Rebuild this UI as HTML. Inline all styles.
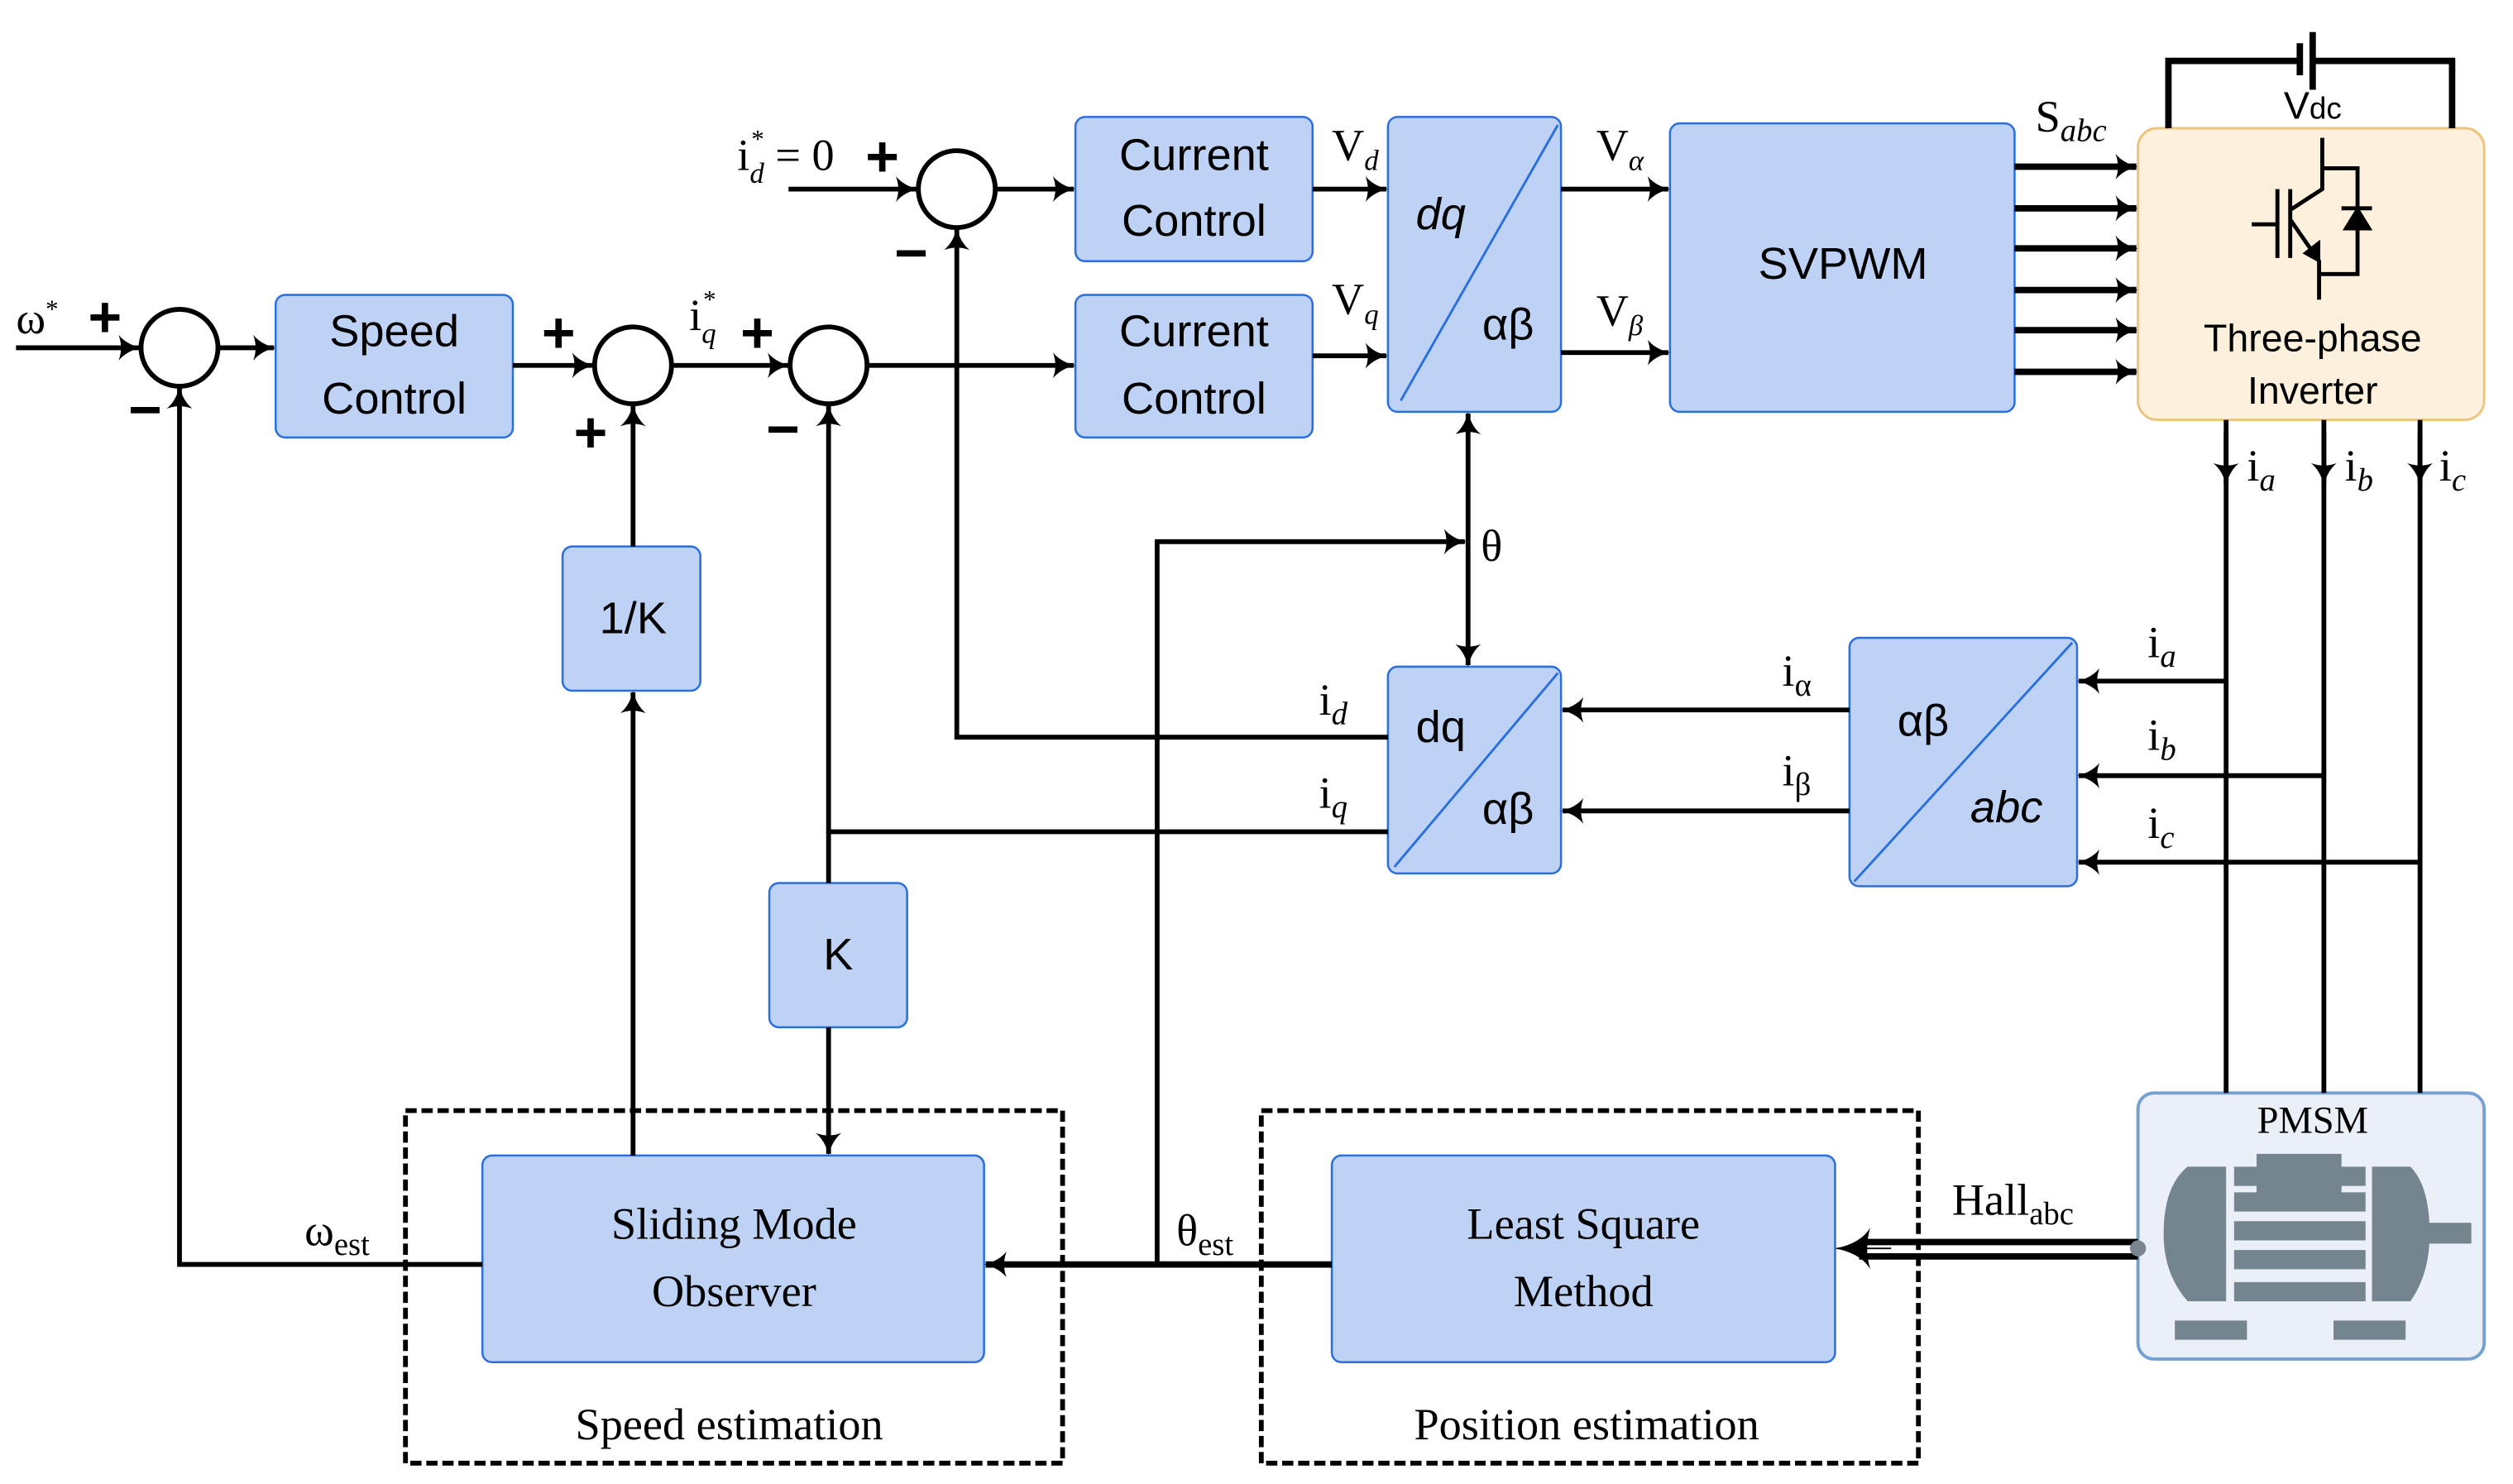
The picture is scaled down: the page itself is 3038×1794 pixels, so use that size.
<!DOCTYPE html>
<html><head><meta charset="utf-8"><style>
html,body{margin:0;padding:0;background:#fff}
svg{display:block}
.b{fill:#bed2f6;stroke:#2a6fdc;stroke-width:1.3}
.s{font-family:"Liberation Sans",sans-serif;font-size:28px}
.r{font-family:"Liberation Serif",serif;font-size:28px}
.l{stroke:#000;stroke-width:3;fill:none}
.pm{font-family:"Liberation Sans",sans-serif;font-size:36px;font-weight:bold}
</style></head><body>
<svg width="3038" height="1794" viewBox="0 0 1568 926" preserveAspectRatio="none" xmlns="http://www.w3.org/2000/svg">
<defs><marker id="a" markerWidth="14" markerHeight="16" refX="13" refY="8" orient="auto" markerUnits="userSpaceOnUse"><path d="M0,0 Q5,6 14,8 Q5,10 0,16 Q3,8 0,0z" fill="#000"/></marker>
<marker id="a2" markerWidth="22" markerHeight="26" refX="21" refY="13" orient="auto" markerUnits="userSpaceOnUse"><path d="M0,0 Q6,10 22,13 Q6,16 0,26 Q4,13 0,0z" fill="#000"/></marker></defs>

<rect class="b" x="172" y="184" width="148" height="89" rx="6"/>
<rect class="b" x="671" y="73" width="148" height="90" rx="6"/>
<rect class="b" x="671" y="184" width="148" height="89" rx="6"/>
<rect class="b" x="866" y="73" width="108" height="184" rx="6"/>
<line x1="874" y1="250" x2="972" y2="78" stroke="#2a6fdc" stroke-width="1.5"/>
<rect class="b" x="1042" y="77" width="215" height="180" rx="6"/>
<rect class="b" x="351" y="341" width="86" height="90" rx="6"/>
<rect class="b" x="480" y="551" width="86" height="90" rx="6"/>
<rect class="b" x="866" y="416" width="108" height="129" rx="6"/>
<line x1="870" y1="541" x2="972" y2="420" stroke="#2a6fdc" stroke-width="1.5"/>
<rect class="b" x="1154" y="398" width="142" height="155" rx="6"/>
<line x1="1157" y1="550" x2="1293" y2="401" stroke="#2a6fdc" stroke-width="1.5"/>
<rect class="b" x="301" y="721" width="313" height="129" rx="6"/>
<rect class="b" x="831" y="721" width="314" height="129" rx="6"/>
<rect x="253" y="693" width="410" height="220" fill="none" stroke="#000" stroke-width="3" stroke-dasharray="7,3"/>
<rect x="787" y="693" width="410" height="220" fill="none" stroke="#000" stroke-width="3" stroke-dasharray="7,3"/>
<rect x="1334" y="80" width="216" height="182" rx="12" fill="#fdf0dc" stroke="#edc47e" stroke-width="1.5"/>
<rect x="1334" y="682" width="216" height="166" rx="10" fill="#ebeff8" stroke="#75a0cf" stroke-width="2"/>

<g fill="#fff" stroke="#000" stroke-width="3">
<circle cx="112" cy="217" r="24"/><circle cx="395" cy="228" r="24"/><circle cx="517" cy="228" r="24"/><circle cx="597" cy="118" r="24"/></g>

<g class="l">
<path d="M10,217 H87" marker-end="url(#a)"/>
<path d="M137,217 H171" marker-end="url(#a)"/>
<path d="M320,228 H370" marker-end="url(#a)"/>
<path d="M420,228 H492" marker-end="url(#a)"/>
<path d="M542,228 H670" marker-end="url(#a)"/>
<path d="M492,118 H572" marker-end="url(#a)"/>
<path d="M622,118 H670" marker-end="url(#a)"/>
<path d="M819,118 H865" marker-end="url(#a)"/>
<path d="M819,222 H865" marker-end="url(#a)"/>
<path d="M974,118 H1041" marker-end="url(#a)"/>
<path d="M974,220 H1041" marker-end="url(#a)"/>
<path d="M1257,104 H1333" marker-end="url(#a)" stroke-width="4"/>
<path d="M1257,130 H1333" marker-end="url(#a)" stroke-width="4"/>
<path d="M1257,155 H1333" marker-end="url(#a)" stroke-width="4"/>
<path d="M1257,181 H1333" marker-end="url(#a)" stroke-width="4"/>
<path d="M1257,206 H1333" marker-end="url(#a)" stroke-width="4"/>
<path d="M1257,232 H1333" marker-end="url(#a)" stroke-width="4"/>
<path d="M1353,80 V38 H1435 M1443,38 H1530 V80" stroke-width="4"/>
<path d="M1435,27 V47" stroke-width="4"/><path d="M1443,20 V56" stroke-width="4"/>
<path d="M1389,262 V682 M1450,262 V682 M1510,262 V682"/>
<path d="M1389,270 V302" marker-end="url(#a)"/>
<path d="M1450,270 V302" marker-end="url(#a)"/>
<path d="M1510,270 V302" marker-end="url(#a)"/>
<path d="M1389,425 H1297" marker-end="url(#a)"/>
<path d="M1450,484 H1297" marker-end="url(#a)"/>
<path d="M1510,538 H1297" marker-end="url(#a)"/>
<path d="M1154,443 H975" marker-end="url(#a)"/>
<path d="M1154,506 H975" marker-end="url(#a)"/>
<path d="M866,460 H597 V143" marker-end="url(#a)"/>
<path d="M866,519 H517 V253" marker-end="url(#a)"/>
<path d="M517,519 V551"/>
<path d="M517,641 V720" marker-end="url(#a)"/>
<path d="M916,338 V258" marker-end="url(#a)"/>
<path d="M916,338 V415" marker-end="url(#a)"/>
<path d="M722,789 V338 H914" marker-end="url(#a)"/>
<path d="M831,789 H615" marker-end="url(#a)" stroke-width="4"/>
<path d="M395,721 V432" marker-end="url(#a)"/>
<path d="M395,341 V253" marker-end="url(#a)"/>
<path d="M301,789 H112 V242" marker-end="url(#a)"/>
<path d="M1334,775 H1160 M1334,784 H1160" stroke-width="4"/>
<path d="M1180,779 H1146" marker-end="url(#a2)" stroke-width="1"/>
</g>
<circle cx="1334" cy="779" r="5" fill="#7a8590"/>

<g stroke="#000" stroke-width="2.5" fill="none">
<path d="M1405,140 H1421 M1421,118 V161 M1429,118 V161 M1429,131 L1449,118 V86 M1449,105 H1471 V171 H1447 M1429,137 L1447,163 V187 M1461,130 H1480"/>
</g>
<path d="M1463,143 L1471,130 L1479,143z M1438,158 L1447,151 L1447,163z" fill="#000" stroke="#000" stroke-width="1.5"/>
<g fill="#75858f">
<path d="M1389,728 V812 H1365 Q1350,795 1350,770 Q1350,740 1365,728z"/>
<rect x="1394" y="728" width="82" height="12"/><rect x="1408" y="720" width="53" height="34"/>
<rect x="1394" y="744" width="82" height="12"/><rect x="1394" y="762" width="82" height="12"/>
<rect x="1394" y="780" width="82" height="12"/><rect x="1394" y="800" width="82" height="12"/>
<path d="M1480,728 V812 H1504 Q1516,795 1516,770 Q1516,740 1504,728z"/>
<rect x="1514" y="763" width="28" height="13"/>
<rect x="1357" y="824" width="45" height="12"/><rect x="1456" y="824" width="45" height="12"/>
</g>

<g class="s" text-anchor="middle">
<text x="246" y="216">Speed</text><text x="246" y="258">Control</text>
<text x="745" y="106">Current</text><text x="745" y="147">Control</text>
<text x="745" y="216">Current</text><text x="745" y="258">Control</text>
<text x="1150" y="174">SVPWM</text>
<text x="395" y="395">1/K</text><text x="523" y="605">K</text>
<text x="1443" y="219" font-size="24">Three-phase</text><text x="1443" y="252" font-size="24">Inverter</text>
<text x="1443" y="74" font-size="24">V<tspan font-size="19">dc</tspan></text>
<text x="899" y="143" font-style="italic">dq</text><text x="941" y="212">αβ</text>
<text x="899" y="463">dq</text><text x="941" y="514">αβ</text>
<text x="1200" y="459">αβ</text><text x="1252" y="513" font-style="italic">abc</text>
</g>
<g class="r" text-anchor="middle">
<text x="458" y="773">Sliding Mode</text><text x="458" y="815">Observer</text>
<text x="988" y="773">Least Square</text><text x="988" y="815">Method</text>
<text x="455" y="898">Speed estimation</text><text x="990" y="898">Position estimation</text>
<text x="1443" y="707" font-size="24">PMSM</text>
</g>
<g class="pm">
<text x="55" y="210">+</text>
<text x="80" y="268">−</text>
<text x="338" y="220">+</text>
<text x="358" y="282">+</text>
<text x="462" y="220">+</text>
<text x="478" y="280">−</text>
<text x="540" y="110">+</text>
<text x="558" y="170">−</text>
</g>
<g class="r">
<text x="10" y="208">ω<tspan font-size="16" dy="-10">*</tspan></text>
<text x="430" y="206">i<tspan font-size="18" dy="8" font-style="italic">q</tspan><tspan font-size="16" dx="-8" dy="-22">*</tspan></text>
<text x="460" y="106">i<tspan font-size="18" dy="8" font-style="italic">d</tspan><tspan font-size="16" dx="-8" dy="-22">*</tspan><tspan dy="14"> = 0</tspan></text>
<text x="831" y="100">V<tspan font-size="18" dy="6" font-style="italic">d</tspan></text>
<text x="831" y="196">V<tspan font-size="18" dy="6" font-style="italic">q</tspan></text>
<text x="996" y="100">V<tspan font-size="18" dy="6" font-style="italic">α</tspan></text>
<text x="996" y="203">V<tspan font-size="18" dy="6" font-style="italic">β</tspan></text>
<text x="1270" y="82">S<tspan font-size="20" dy="6" font-style="italic">abc</tspan></text>
<text x="1402" y="300">i<tspan font-size="20" dy="6" font-style="italic">a</tspan></text>
<text x="1463" y="300">i<tspan font-size="20" dy="6" font-style="italic">b</tspan></text>
<text x="1522" y="300">i<tspan font-size="20" dy="6" font-style="italic">c</tspan></text>
<text x="1340" y="410">i<tspan font-size="20" dy="6" font-style="italic">a</tspan></text>
<text x="1340" y="468">i<tspan font-size="20" dy="6" font-style="italic">b</tspan></text>
<text x="1340" y="523">i<tspan font-size="20" dy="6" font-style="italic">c</tspan></text>
<text x="1112" y="428">i<tspan font-size="20" dy="6">α</tspan></text>
<text x="1112" y="490">i<tspan font-size="20" dy="6">β</tspan></text>
<text x="823" y="446">i<tspan font-size="20" dy="6" font-style="italic">d</tspan></text>
<text x="823" y="504">i<tspan font-size="20" dy="6" font-style="italic">q</tspan></text>
<text x="924" y="350">θ</text>
<text x="734" y="777">θ<tspan font-size="20" dy="6">est</tspan></text>
<text x="190" y="777">ω<tspan font-size="20" dy="6">est</tspan></text>
<text x="1218" y="758">Hall<tspan font-size="20" dy="6">abc</tspan></text>
</g>
</svg>
</body></html>
